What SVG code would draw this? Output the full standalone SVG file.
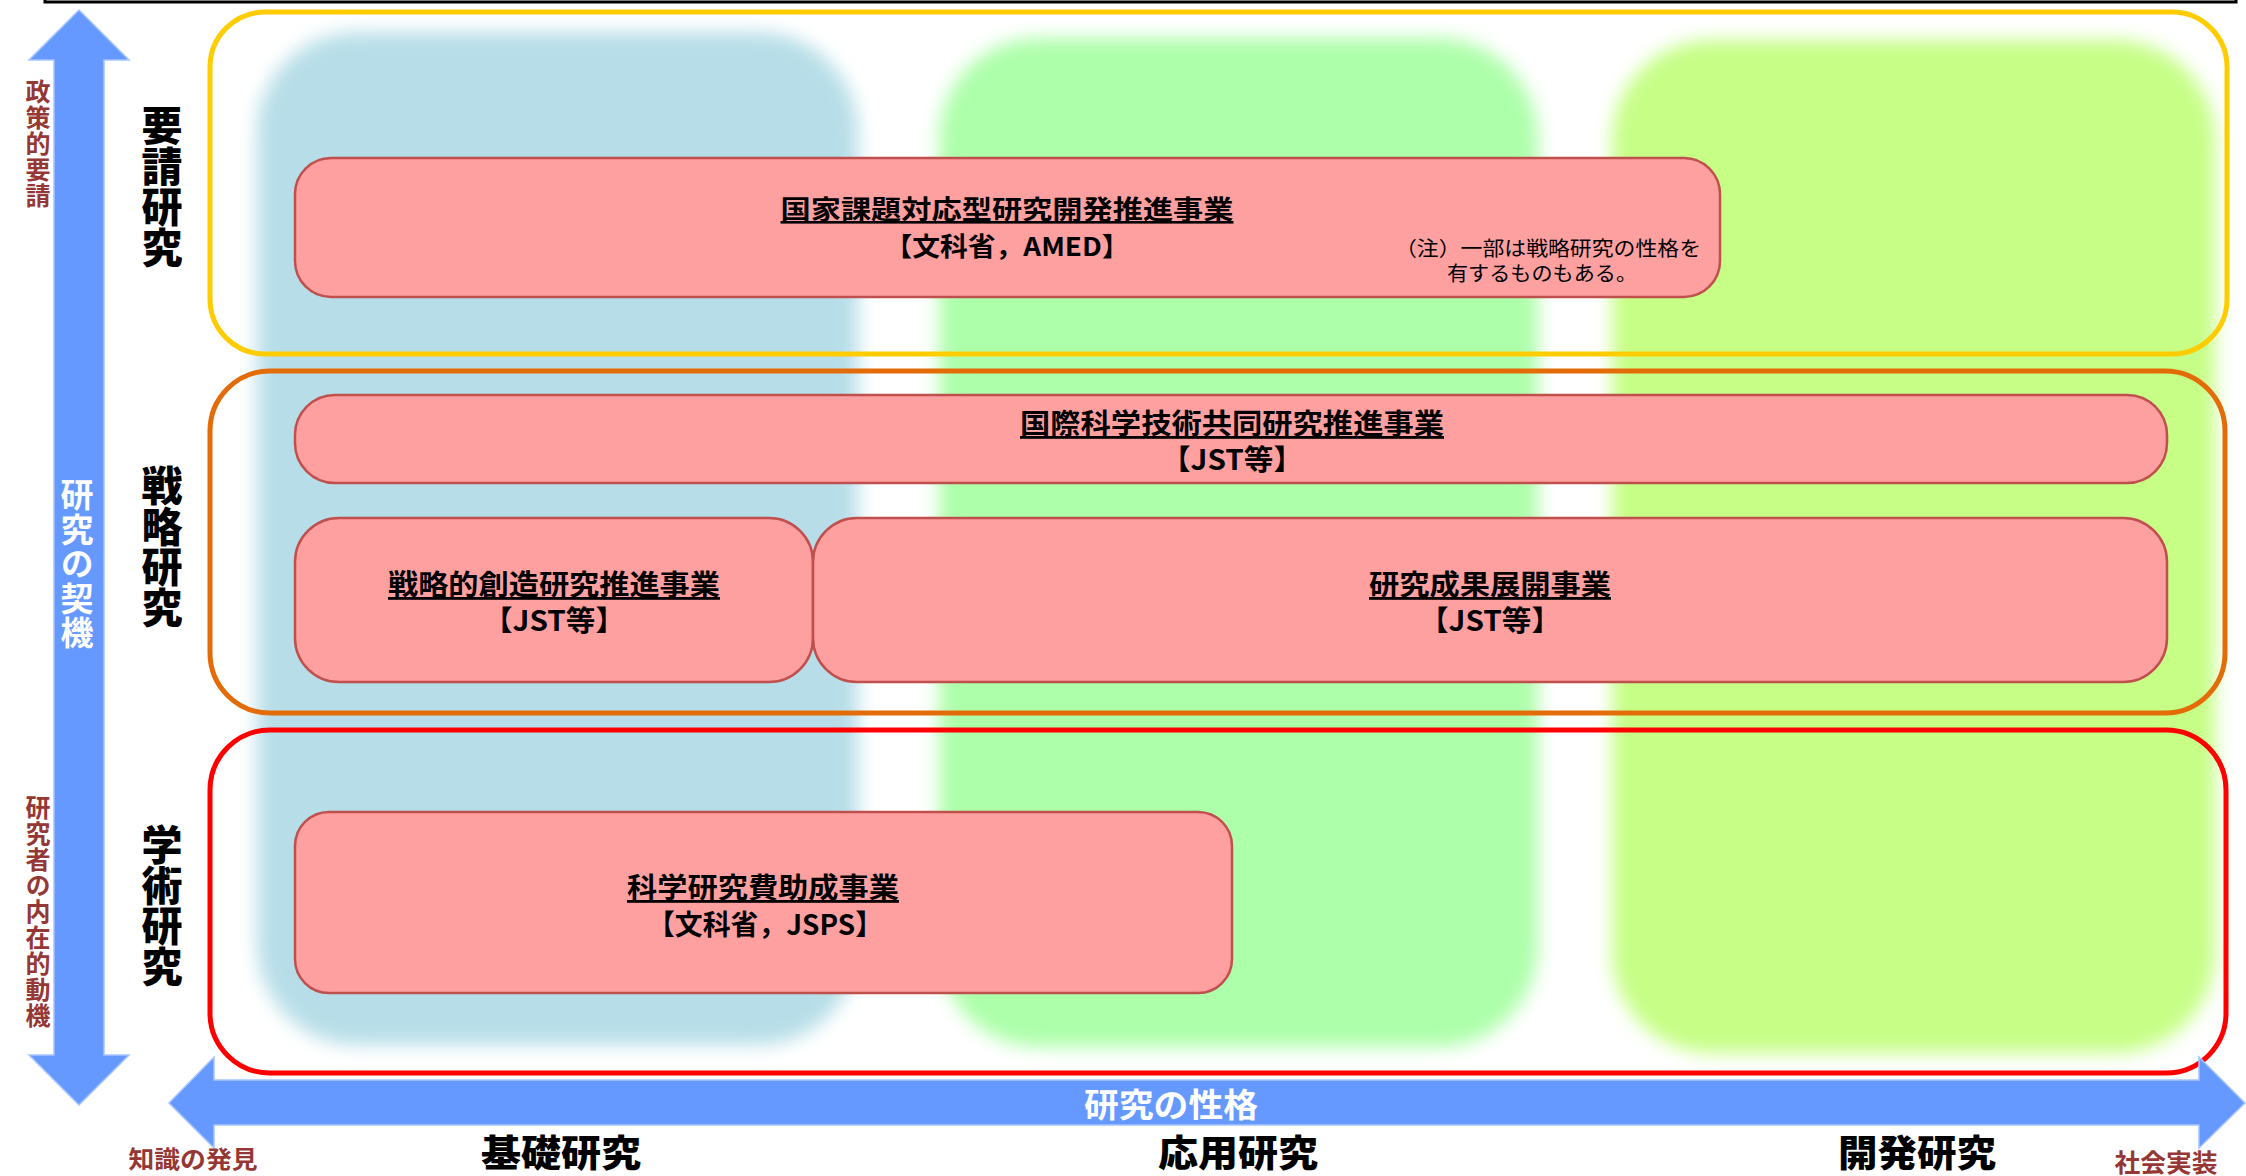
<svg xmlns="http://www.w3.org/2000/svg" width="2246" height="1176" viewBox="0 0 2246 1176">
<style>
  text { font-family: "Noto Sans CJK JP", "Noto Sans", sans-serif; }
  .vert { writing-mode: vertical-rl; text-orientation: upright; }
  .row { font-size: 41px; font-weight: 900; fill: #000; letter-spacing: -0.5px; }
  .side { font-size: 25px; font-weight: 700; fill: #953735; }
  .sideh { font-size: 25px; font-weight: 700; fill: #953735; text-anchor: middle; }
  .axis { font-size: 37px; font-weight: 900; fill: #000; text-anchor: middle; }
  .arrowtxt { font-size: 33px; font-weight: 700; fill: #fff; }
  .title { font-size: 28px; font-weight: 700; fill: #000; text-anchor: middle; text-decoration: underline; }
  .sub { font-size: 28px; font-weight: 700; fill: #000; text-anchor: middle; }
  .note { font-size: 20px; font-weight: 400; fill: #000; }
  .prog { fill: #ffa0a0; stroke: #c0504d; stroke-width: 2.5; }
  .band { fill: none; stroke-width: 5; }
  .col { filter: url(#soft); }
  .arrow { fill: #6699ff; stroke: #a8c4ff; stroke-width: 1.5; }
</style>
<defs>
  <filter id="soft" x="-10%" y="-10%" width="120%" height="120%">
    <feGaussianBlur stdDeviation="9"/>
  </filter>
</defs>
<rect width="2246" height="1176" fill="#ffffff"/>

<!-- top frame -->
<rect x="45" y="-20" width="2191" height="22" fill="none" stroke="#000" stroke-width="3"/>

<!-- background columns -->
<g id="columns">
  <rect class="col" x="257" y="32" width="601" height="1013" rx="100" fill="#b7dee8"/>
  <rect class="col" x="939" y="38" width="599" height="1009" rx="100" fill="#adffaa"/>
  <rect class="col" x="1612" y="40" width="603" height="1013" rx="100" fill="#c6fe86"/>
</g>

<!-- category bands -->
<g id="band-yousei"><rect class="band" x="210" y="12" width="2017" height="342" rx="55" stroke="#ffcc00"/></g>
<g id="band-senryaku"><rect class="band" x="210" y="371" width="2015" height="342" rx="60" stroke="#e36c09"/></g>
<g id="band-gakujutsu"><rect class="band" x="210" y="730" width="2016" height="343" rx="60" stroke="#ff0000"/></g>

<!-- programs -->
<g id="prog-kokka">
  <rect class="prog" x="295" y="158" width="1425" height="139" rx="36"/>
  <text class="title" x="1007" y="219" textLength="453" lengthAdjust="spacingAndGlyphs" style="font-size:26px">国家課題対応型研究開発推進事業</text>
  <text class="sub" x="1007" y="256" textLength="245" lengthAdjust="spacingAndGlyphs" style="font-size:26px">【文科省，AMED】</text>
  <text class="note" x="1395" y="256" textLength="306" lengthAdjust="spacingAndGlyphs">（注）一部は戦略研究の性格を</text>
  <text class="note" x="1447" y="281" textLength="190" lengthAdjust="spacingAndGlyphs">有するものもある。</text>
</g>
<g id="prog-kokusai">
  <rect class="prog" x="295" y="395" width="1872" height="88" rx="40"/>
  <text class="title" x="1232" y="434" textLength="424" lengthAdjust="spacingAndGlyphs">国際科学技術共同研究推進事業</text>
  <text class="sub" x="1232" y="470" textLength="142" lengthAdjust="spacingAndGlyphs">【JST等】</text>
</g>
<g id="prog-souzou">
  <rect class="prog" x="295" y="518" width="518" height="164" rx="44"/>
  <text class="title" x="554" y="595" textLength="332" lengthAdjust="spacingAndGlyphs">戦略的創造研究推進事業</text>
  <text class="sub" x="554" y="631" textLength="142" lengthAdjust="spacingAndGlyphs">【JST等】</text>
</g>
<g id="prog-seika">
  <rect class="prog" x="813" y="518" width="1354" height="164" rx="44"/>
  <text class="title" x="1490" y="595" textLength="242" lengthAdjust="spacingAndGlyphs">研究成果展開事業</text>
  <text class="sub" x="1490" y="631" textLength="142" lengthAdjust="spacingAndGlyphs">【JST等】</text>
</g>
<g id="prog-kaken">
  <rect class="prog" x="295" y="812" width="937" height="181" rx="34"/>
  <text class="title" x="763" y="898" textLength="272" lengthAdjust="spacingAndGlyphs">科学研究費助成事業</text>
  <text class="sub" x="765" y="935" textLength="236" lengthAdjust="spacingAndGlyphs">【文科省，JSPS】</text>
</g>

<!-- axes -->
<g id="connectors">
  <polygon class="arrow" points="79,10 129,60 104,60 104,1055 129,1055 79,1105 29,1055 54,1055 54,60 29,60"/>
  <polygon class="arrow" points="169,1103 214,1057 214,1080 2199,1080 2199,1057 2245,1103 2199,1148 2199,1125 214,1125 214,1148"/>
</g>

<g id="axis-vertical-labels">
  <text class="arrowtxt vert" x="77" y="478" style="letter-spacing:1.5px">研究の契機</text>
  <text class="side vert" x="38" y="79" style="letter-spacing:1px">政策的要請</text>
  <text class="side vert" x="38" y="795" style="letter-spacing:1px">研究者の内在的動機</text>
</g>

<g id="row-labels">
  <text class="row vert" x="162" y="105">要請研究</text>
  <text class="row vert" x="162" y="465">戦略研究</text>
  <text class="row vert" x="162" y="824">学術研究</text>
</g>

<g id="axis-horizontal-labels">
  <text class="arrowtxt" x="1171" y="1117" textLength="174" lengthAdjust="spacingAndGlyphs" style="text-anchor:middle">研究の性格</text>
  <text class="axis" x="561" y="1167" textLength="160" lengthAdjust="spacingAndGlyphs">基礎研究</text>
  <text class="axis" x="1238" y="1167" textLength="160" lengthAdjust="spacingAndGlyphs">応用研究</text>
  <text class="axis" x="1917" y="1167" textLength="158" lengthAdjust="spacingAndGlyphs">開発研究</text>
  <text class="sideh" x="193" y="1168" textLength="129" lengthAdjust="spacingAndGlyphs" style="font-size:24px">知識の発見</text>
  <text class="sideh" x="2166" y="1172" textLength="103" lengthAdjust="spacingAndGlyphs">社会実装</text>
</g>
</svg>
